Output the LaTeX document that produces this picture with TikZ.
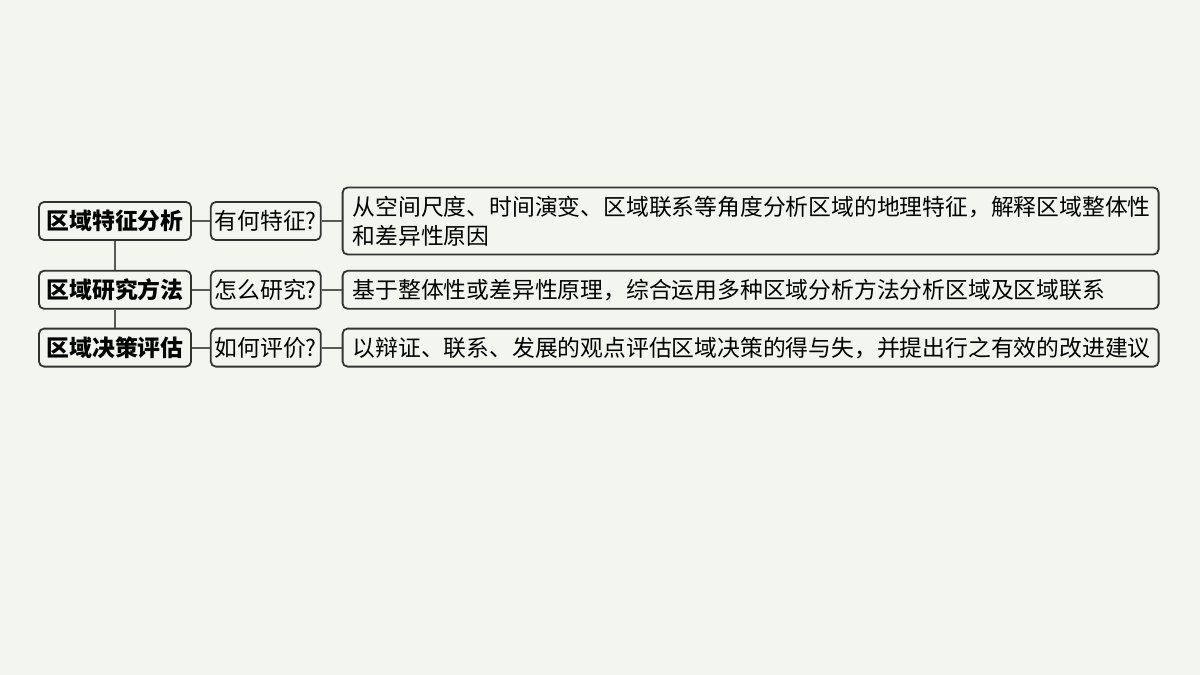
\documentclass[tikz,border=0pt]{standalone}
\usepackage{fontspec}
\usepackage{tikz}
\usetikzlibrary{positioning}
\newfontfamily\cjk{Noto Sans CJK SC}
\definecolor{bgpaper}{HTML}{F2F6EF}

\begin{document}
\begin{tikzpicture}[node distance=9pt, thick,
                    every node/.style={font=\cjk\fontsize{11.4}{14.5}\selectfont},
                    base node/.style={draw=black!80, line width=0.9pt, rounded corners=2.5pt,
                                      inner ysep=3pt, minimum height=19pt},
                    topic node/.style={base node, text width=74pt, inner xsep=1pt, align=center,
                                       font=\cjk\bfseries\fontsize{11.4}{14.5}\selectfont},
                    question node/.style={base node, text width=53pt, inner xsep=1pt, align=center},
                    answer node/.style={base node, text width=398pt, inner xsep=5pt, align=left},
                    link/.style={draw=black!65, line width=0.9pt}]

  \useasboundingbox[fill=bgpaper] (0,0) rectangle (600pt,-337.5pt);

  \node[topic node] (t1) at (57.5pt,-110.5pt) {区域特征分析};
  \node[topic node] (t2) [below=14.5pt of t1] {区域研究方法};
  \node[topic node] (t3) [below=9pt of t2] {区域决策评估};

  \node[question node] (q1) [right=of t1] {有何特征?};
  \node[question node] (q2) [right=of t2] {怎么研究?};
  \node[question node] (q3) [right=of t3] {如何评价?};

  \node[answer node, minimum height=33.5pt] (a1) [right=10pt of q1]
    {从空间尺度、时间演变、区域联系等角度分析区域的地理特征，解释区域整体性\\和差异性原因};
  \node[answer node] (a2) [right=10pt of q2]
    {基于整体性或差异性原理，综合运用多种区域分析方法分析区域及区域联系};
  \node[answer node] (a3) [right=10pt of q3]
    {以辩证、联系、发展的观点评估区域决策的得与失，并提出行之有效的改进建议};

  \path[link]
    (t1) edge (t2)
    (t2) edge (t3)
    (t1) edge (q1)
    (t2) edge (q2)
    (t3) edge (q3)
    (q1.east) edge (q1.east -| a1.west)
    (q2) edge (a2)
    (q3) edge (a3);
\end{tikzpicture}
\end{document}
